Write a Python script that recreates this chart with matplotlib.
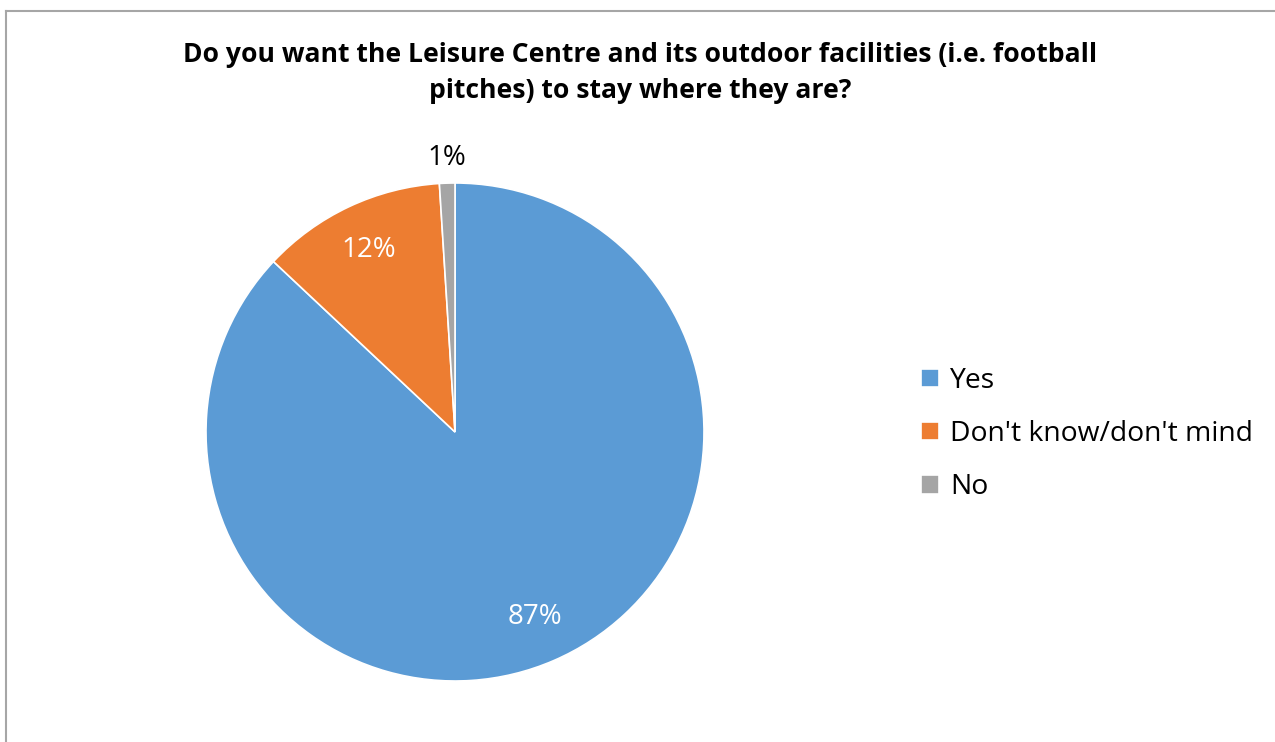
import matplotlib.pyplot as plt
from matplotlib.lines import Line2D

plt.rcParams['font.family'] = ['Open Sans', 'DejaVu Sans']

# survey answers
answers = ['Yes', "Don't know/don't mind", 'No']
shares = [87, 12, 1]
colors = ['#5B9BD5', '#ED7D31', '#A5A5A5']

W, H = 1275, 742
fig = plt.figure(figsize=(W / 100, H / 100), dpi=100)

# chart area border (top and left visible)
fig.add_artist(Line2D([6 / W, 6 / W], [0, 1 - 11 / H], color='#a6a6a6', lw=1.5))
fig.add_artist(Line2D([6 / W, 1], [1 - 11 / H, 1 - 11 / H], color='#a6a6a6', lw=1.5))

# pie centre (455, 432), radius 249 px
cx, cy, r = 455, 432, 249
ax = fig.add_axes([(cx - r) / W, 1 - (cy + r) / H, 2 * r / W, 2 * r / H])

wedges, texts, autotexts = ax.pie(
    shares, colors=colors, startangle=90, counterclock=False,
    autopct='%d%%', pctdistance=0.81, radius=1,
    wedgeprops=dict(edgecolor='white', linewidth=1.2),
    textprops=dict(fontsize=20),
)
for t in autotexts:
    t.set_color('white')
# the tiny slice gets its label outside
autotexts[2].set_color('black')
x, y = autotexts[2].get_position()
autotexts[2].set_position((x / 0.81 * 1.1, y / 0.81 * 1.1))

ax.set_xlim(-1, 1)
ax.set_ylim(-1, 1)
ax.set_aspect('equal')
ax.axis('off')

fig.text(640 / W, 1 - 73 / H,
         'Do you want the Leisure Centre and its outdoor facilities (i.e. football\npitches) to stay where they are?',
         ha='center', va='center', fontsize=19.1, fontweight='bold', linespacing=1.48)

fig.legend(wedges, answers, loc='center left', bbox_to_anchor=(896 / W, 1 - 434 / H),
           frameon=False, fontsize=20.3, handlelength=0.62, handleheight=0.62,
           handletextpad=0.4, labelspacing=0.9)

fig.savefig('out.png', dpi=100)
